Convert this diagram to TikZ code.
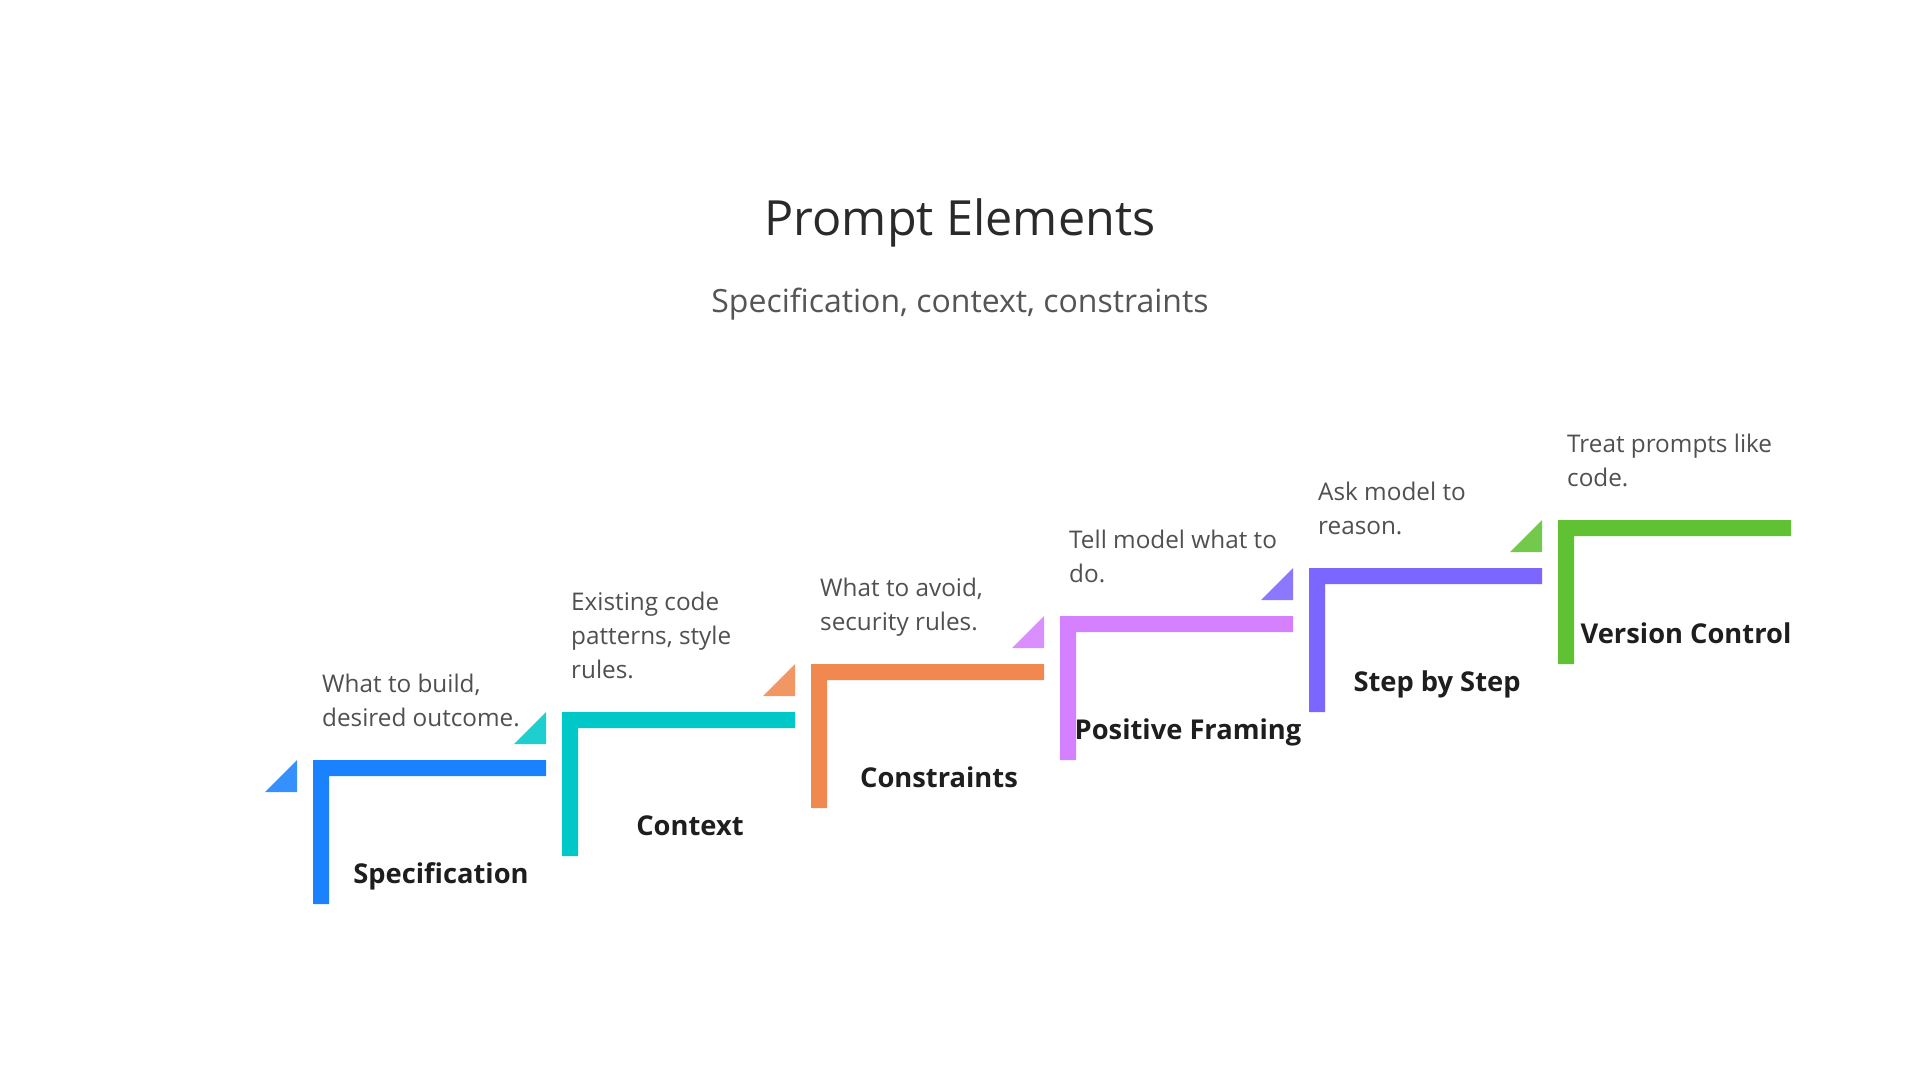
\documentclass[tikz,border=0pt]{standalone}
\usepackage{fontspec}
\setmainfont{Open Sans}
\definecolor{cBlue}{HTML}{1A82FF}
\definecolor{cTeal}{HTML}{00C8C8}
\definecolor{cOrange}{HTML}{F0884F}
\definecolor{cPink}{HTML}{D580FF}
\definecolor{cPurple}{HTML}{7B66FF}
\definecolor{cGreen}{HTML}{60C232}
\definecolor{titlegray}{HTML}{2A2A2A}
\definecolor{subgray}{HTML}{555555}
\definecolor{descgray}{HTML}{505050}
\definecolor{labelblack}{HTML}{1E1E1E}
\begin{document}
\begin{tikzpicture}[x=1pt,y=-1pt,
  titletext/.style={anchor=base,inner sep=0,text=titlegray,font=\fontsize{48.5}{58}\selectfont},
  subtext/.style={anchor=base,inner sep=0,text=subgray,font=\fontsize{32}{40}\selectfont},
  steplabel/.style={anchor=base,inner sep=0,text=labelblack,font=\fontsize{27.3}{34}\selectfont\bfseries},
  stepdesc/.style={anchor=base west,inner sep=0,text=descgray,font=\fontsize{24.3}{34}\selectfont}]
\useasboundingbox (0,0) rectangle (1920,1080);
\fill[white] (0,0) rectangle (1920,1080);

% heading
\node[titletext] (title) at (960,235) {Prompt Elements};
\node[subtext] (subtitle) at (960,312) {Specification, context, constraints};

% staircase: one L-shaped step per element, with a corner triangle on its left
\foreach \i/\col/\lab/\desc in {
  0/cBlue/Specification/{What to build,\\desired outcome.},
  1/cTeal/Context/{Existing code\\patterns, style\\rules.},
  2/cOrange/Constraints/{What to avoid,\\security rules.},
  3/cPink/Positive Framing/{Tell model what to\\do.},
  4/cPurple/Step by Step/{Ask model to\\reason.},
  5/cGreen/Version Control/{Treat prompts like\\code.}}{
  \pgfmathsetmacro{\L}{313+249*\i}
  \pgfmathsetmacro{\T}{760-48*\i}
  \fill[\col] (\L,\T) -- (\L+233,\T) -- (\L+233,\T+16) -- (\L+16,\T+16)
     -- (\L+16,\T+144) -- (\L,\T+144) -- cycle;
  \fill[\col!88!white] (\L-16,\T) -- (\L-16,\T+32) -- (\L-48,\T+32) -- cycle;
  \node[steplabel] (lab\i) at (\L+128,\T+123) {\lab};
  \node[stepdesc] (desc\i) at (\L+9,\T-34)
     {\begin{tabular}[b]{@{}l@{}}\desc\end{tabular}};
}
\end{tikzpicture}
\end{document}
